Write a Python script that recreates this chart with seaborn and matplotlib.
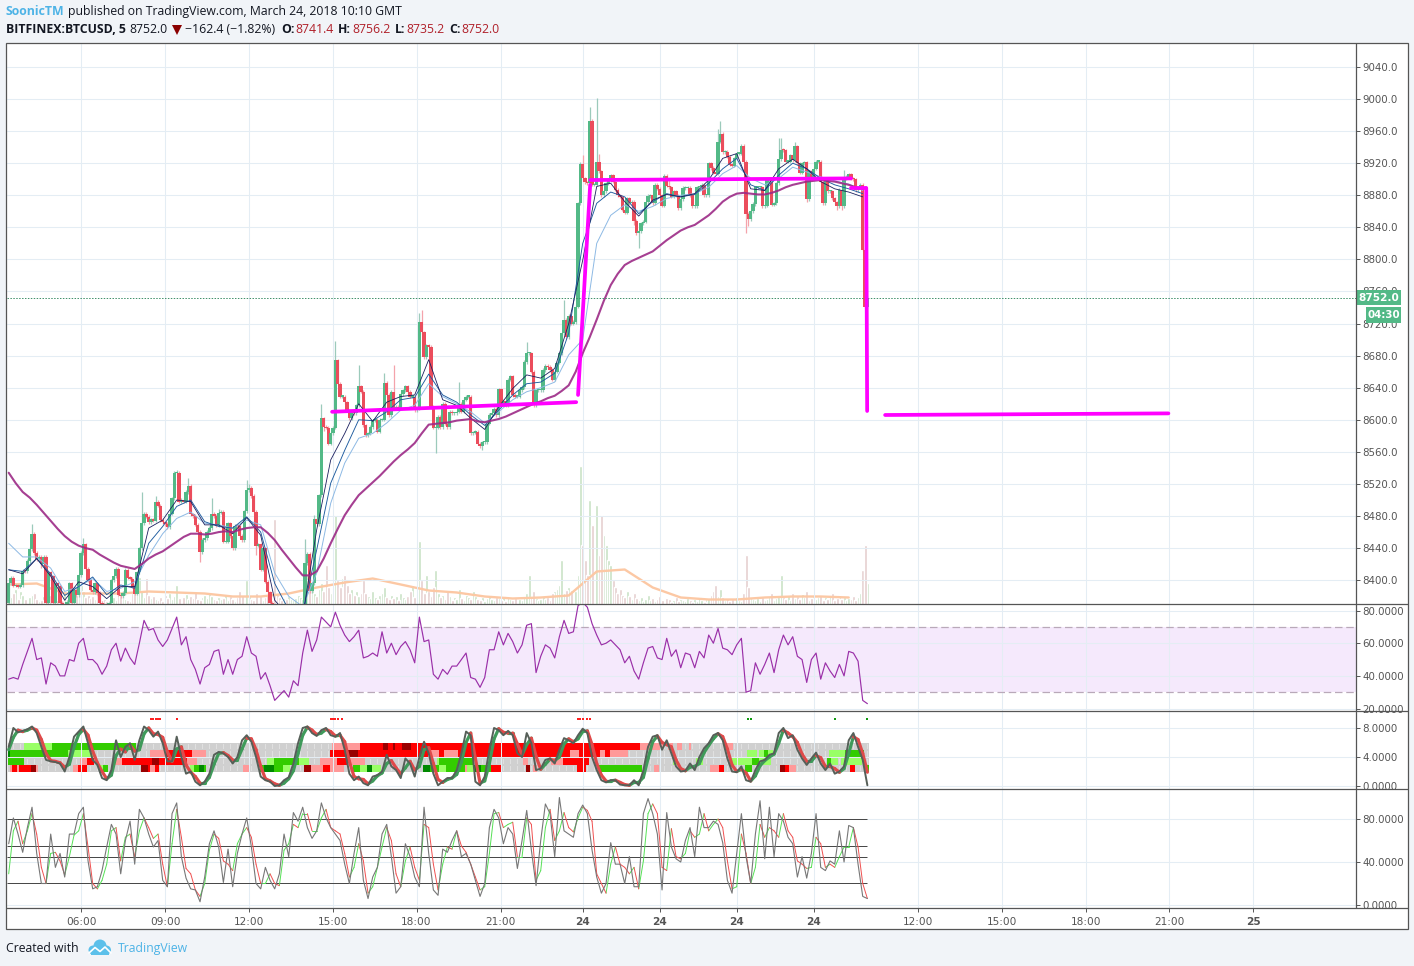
import matplotlib
matplotlib.use('Agg')
import matplotlib.pyplot as plt
from matplotlib.colors import ListedColormap
from matplotlib.patches import Rectangle, Polygon, Circle
import seaborn as sns
import pandas as pd
import numpy as np

# ---- data, one entry per 5 minute bar unless noted ----
first_open = 8371
closes = [
    8396, 8403, 8393, 8393, 8392, 8394, 8412, 8411, 8424, 8439,
    8458, 8434, 8426, 8429, 8420, 8429, 8372, 8410, 8405, 8372,
    8396, 8393, 8372, 8368, 8370, 8373, 8396, 8372, 8388, 8381,
    8406, 8434, 8445, 8414, 8400, 8388, 8385, 8396, 8384, 8372,
    8369, 8368, 8366, 8371, 8400, 8405, 8414, 8382, 8380, 8384,
    8413, 8403, 8402, 8392, 8383, 8410, 8440, 8471, 8483, 8479,
    8472, 8476, 8474, 8498, 8493, 8475, 8472, 8470, 8466, 8483,
    8502, 8534, 8534, 8498, 8500, 8498, 8510, 8518, 8482, 8480,
    8469, 8460, 8435, 8450, 8452, 8460, 8465, 8483, 8480, 8468,
    8484, 8485, 8448, 8448, 8471, 8455, 8440, 8468, 8467, 8455,
    8450, 8486, 8512, 8515, 8505, 8485, 8443, 8445, 8413, 8440,
    8398, 8385, 8372, 8368, 8360, 8352, 8345, 8340, 8340, 8338,
    8340, 8345, 8350, 8352, 8355, 8358, 8360, 8421, 8433, 8386,
    8396, 8476, 8470, 8506, 8602, 8591, 8590, 8570, 8583, 8590,
    8674, 8645, 8629, 8629, 8622, 8612, 8602, 8610, 8608, 8618,
    8642, 8635, 8593, 8581, 8583, 8591, 8599, 8600, 8585, 8600,
    8600, 8646, 8631, 8606, 8635, 8614, 8616, 8615, 8632, 8637,
    8642, 8635, 8629, 8629, 8612, 8614, 8722, 8709, 8678, 8693,
    8691, 8616, 8590, 8590, 8604, 8591, 8620, 8595, 8591, 8610,
    8608, 8608, 8610, 8620, 8610, 8625, 8629, 8629, 8583, 8584,
    8585, 8570, 8567, 8572, 8572, 8595, 8606, 8608, 8614, 8606,
    8638, 8620, 8624, 8618, 8650, 8654, 8631, 8629, 8629, 8637,
    8641, 8672, 8683, 8683, 8660, 8618, 8637, 8637, 8637, 8662,
    8667, 8666, 8662, 8650, 8660, 8671, 8683, 8708, 8725, 8703,
    8730, 8720, 8722, 8741, 8870, 8919, 8901, 8896, 8895, 8973,
    8893, 8893, 8922, 8910, 8880, 8885, 8895, 8899, 8905, 8897,
    8887, 8880, 8878, 8862, 8858, 8876, 8870, 8872, 8848, 8833,
    8835, 8845, 8847, 8871, 8879, 8880, 8870, 8893, 8888, 8880,
    8867, 8904, 8892, 8890, 8878, 8885, 8880, 8864, 8875, 8889,
    8889, 8889, 8880, 8866, 8866, 8890, 8890, 8893, 8880, 8880,
    8920, 8914, 8908, 8907, 8947, 8957, 8934, 8934, 8928, 8918,
    8917, 8926, 8932, 8932, 8942, 8922, 8857, 8850, 8860, 8869,
    8890, 8890, 8890, 8866, 8867, 8899, 8899, 8868, 8870, 8895,
    8925, 8937, 8936, 8922, 8922, 8930, 8924, 8941, 8920, 8908,
    8920, 8921, 8875, 8910, 8903, 8913, 8922, 8922, 8897, 8870,
    8901, 8885, 8885, 8876, 8871, 8866, 8887, 8866, 8901, 8903,
    8906, 8901, 8900, 8886, 8890, 8893, 8812, 8741, 8752,
]
# long wicks only, everything else gets the small default
wick_up_bars = [10, 32, 57, 63, 72, 77, 87, 90, 102, 103, 127, 131, 134, 140, 150, 161, 165,
                176, 177, 193, 222, 238, 246, 249, 252, 253, 283, 304, 305, 330, 331, 337, 358]
wick_up_sizes = [12, 8, 39, 7, 3, 9, 19, 5, 13, 5, 30, 5, 18, 24, 26, 12, 33,
                 11, 15, 27, 14, 24, 11, 17, 79, 10, 8, 16, 15, 26, 14, 5, 10]
wick_dn_bars = [14, 82, 106, 135, 183, 203, 268, 270, 316, 317, 342, 355, 357]
wick_dn_sizes = [5, 12, 12, 5, 32, 5, 5, 19, 24, 8, 3, 5, 5]

volumes = [
    22, 8, 12, 16, 6, 14, 10, 6, 5, 8, 10, 12, 6, 4, 5, 9, 14, 8, 10, 12,
    6, 5, 9, 4, 12, 6, 5, 4, 8, 10, 16, 20, 14, 8, 10, 7, 9, 6, 14, 8,
    5, 6, 4, 5, 12, 8, 5, 14, 10, 7, 6, 5, 4, 12, 20, 16, 28, 14, 8, 27,
    10, 7, 9, 6, 5, 8, 4, 10, 7, 12, 6, 9, 20, 7, 5, 8, 11, 6, 9, 7,
    13, 6, 5, 8, 10, 7, 12, 9, 6, 5, 8, 6, 7, 10, 5, 9, 6, 4, 8, 14,
    10, 7, 25, 9, 6, 5, 12, 7, 9, 5, 8, 10, 6, 4, 86, 12, 8, 5, 7, 6,
    9, 6, 5, 7, 10, 8, 6, 25, 30, 14, 20, 12, 9, 16, 22, 14, 40, 18, 12, 16,
    90, 25, 18, 27, 30, 20, 12, 16, 10, 14, 9, 12, 25, 12, 9, 7, 14, 8, 6, 10,
    12, 18, 8, 6, 10, 7, 9, 5, 12, 8, 6, 9, 14, 20, 8, 10, 64, 25, 12, 30,
    14, 9, 18, 35, 12, 8, 10, 6, 14, 9, 5, 8, 6, 16, 7, 5, 10, 8, 6, 14,
    9, 6, 5, 8, 4, 7, 10, 6, 5, 8, 7, 5, 9, 4, 8, 6, 5, 7, 4, 6,
    5, 9, 12, 30, 8, 14, 7, 5, 6, 9, 6, 8, 5, 12, 14, 16, 20, 45, 12, 15,
    18, 15, 10, 14, 30, 139, 60, 45, 30, 105, 80, 40, 100, 50, 90, 70, 60, 45, 40, 25,
    18, 12, 16, 10, 8, 14, 9, 6, 12, 7, 5, 8, 4, 6, 10, 5, 7, 4, 6, 9,
    5, 4, 7, 6, 3, 5, 8, 4, 6, 5, 4, 7, 5, 3, 6, 4, 8, 5, 3, 6,
    7, 10, 14, 20, 9, 16, 8, 5, 7, 4, 6, 5, 8, 5, 4, 12, 50, 18, 8, 6,
    5, 7, 4, 8, 5, 6, 9, 12, 5, 7, 9, 30, 8, 6, 10, 5, 12, 7, 9, 6,
    11, 8, 14, 5, 7, 9, 6, 8, 10, 5, 8, 6, 9, 12, 5, 7, 10, 6, 8, 5,
    7, 6, 9, 5, 8, 12, 35, 60, 22,
]
# volume average, one value every 12 bars
volume_ma = [20, 21, 11, 11, 11, 13, 12, 11, 8, 8, 11, 17, 22, 26, 20, 14, 12, 8, 6, 7, 9,
             33, 35, 17, 7, 5, 5, 7, 8, 8, 7]

# slow moving average, one value every 3 bars
ma_purple = [8534, 8521, 8510, 8503, 8494, 8484, 8474, 8464, 8455, 8448,
             8443, 8440, 8438, 8432, 8427, 8422, 8418, 8416, 8414, 8420,
             8427, 8432, 8436, 8442, 8448, 8454, 8458, 8458, 8457, 8458,
             8460, 8461, 8460, 8463, 8465, 8466, 8466, 8459, 8450, 8438,
             8427, 8416, 8406, 8406, 8411, 8427, 8446, 8464, 8481, 8494,
             8506, 8514, 8522, 8530, 8539, 8548, 8556, 8563, 8571, 8583,
             8594, 8595, 8596, 8597, 8599, 8600, 8601, 8598, 8597, 8599,
             8601, 8604, 8608, 8612, 8616, 8620, 8623, 8627, 8630, 8636,
             8643, 8660, 8683, 8703, 8725, 8748, 8768, 8782, 8793, 8798,
             8802, 8806, 8810, 8817, 8824, 8830, 8836, 8840, 8843, 8849,
             8855, 8863, 8872, 8878, 8882, 8883, 8882, 8881, 8881, 8883,
             8886, 8890, 8893, 8895, 8897, 8898, 8899, 8898, 8897, 8895,
             8893, 8890, 8888]
# fast moving averages, one value every 6 bars
ma_light = [8446, 8429, 8429, 8415, 8386, 8392, 8402, 8386, 8390, 8398, 8431, 8458, 8477, 8485, 8471,
            8469, 8465, 8475, 8469, 8409, 8380, 8367, 8409, 8496, 8546, 8577, 8583, 8596, 8612, 8618,
            8645, 8629, 8620, 8610, 8596, 8610, 8625, 8635, 8640, 8647, 8681, 8700, 8820, 8855, 8868,
            8860, 8866, 8876, 8880, 8882, 8890, 8907, 8917, 8901, 8893, 8901, 8915, 8909, 8903, 8898,
            8894, 8886]
ma_medium = [8413, 8411, 8427, 8408, 8381, 8392, 8404, 8382, 8394, 8390, 8446, 8467, 8492, 8500, 8473,
             8467, 8465, 8479, 8460, 8396, 8363, 8359, 8438, 8521, 8562, 8600, 8599, 8610, 8625, 8628,
             8657, 8631, 8622, 8606, 8593, 8612, 8631, 8645, 8647, 8658, 8708, 8820, 8870, 8884, 8878,
             8857, 8872, 8882, 8878, 8881, 8895, 8913, 8926, 8893, 8886, 8905, 8920, 8913, 8901, 8893,
             8888, 8882]
ma_dark = [8413, 8408, 8427, 8405, 8375, 8398, 8392, 8377, 8392, 8392, 8465, 8475, 8500, 8498, 8469,
           8469, 8458, 8478, 8456, 8375, 8355, 8355, 8463, 8550, 8583, 8620, 8598, 8622, 8629, 8631,
           8675, 8625, 8618, 8602, 8588, 8616, 8639, 8656, 8652, 8664, 8720, 8799, 8891, 8895, 8872,
           8854, 8874, 8881, 8878, 8882, 8899, 8926, 8932, 8888, 8886, 8913, 8925, 8913, 8897, 8888,
           8884, 8878]

# oscillators, one value every 2 bars
rsi = [
    38, 39, 38, 47, 55, 63, 50, 51, 35, 48, 46, 40, 40, 50, 49, 60, 63, 50, 50, 47,
    41, 46, 56, 60, 49, 57, 51, 47, 60, 74, 68, 69, 62, 58, 62, 69, 76, 59, 64, 50,
    44, 35, 45, 47, 55, 56, 41, 50, 41, 50, 52, 64, 54, 52, 38, 42, 34, 25, 28, 31,
    27, 37, 34, 54, 68, 55, 62, 76, 73, 70, 79, 71, 65, 61, 64, 68, 51, 52, 54, 52,
    67, 54, 60, 53, 58, 61, 56, 48, 76, 61, 62, 41, 38,
    44, 41, 46, 46, 50, 54, 39, 38, 33, 39, 56, 56, 67, 59, 66, 61, 54, 59, 71, 72,
    42, 52, 59, 57, 51, 64, 74, 66, 67, 83, 85, 82, 72, 65, 59, 60, 62, 59, 56, 48,
    52, 43, 38, 48, 57, 58, 51, 50, 63, 52, 56, 45, 54, 53, 45, 55, 51, 65, 60, 69,
    57, 56, 53, 59, 63, 30, 31, 48, 41, 47, 54, 42, 56, 65, 59, 64, 52, 50, 36, 50,
    54, 38, 48, 43, 39, 47, 40, 55, 54, 49, 25, 23,
]
smi_k = [
    5.4, 8.0, 7.4, 7.6, 7.8, 8.2, 7.3, 5.4, 3.6, 3.4, 3.3, 3.1, 2.0, 4.0, 6.8, 7.5, 8.2, 5.9, 3.6, 2.9,
    1.1, 0.8, 2.2, 6.3, 4.0, 5.4, 5.9, 3.6, 6.3, 8.2, 7.7, 6.8, 7.5, 5.9, 3.4, 3.4, 6.8, 4.0, 1.7, 2.0,
    0.6, 0.1, 0.6, 1.7, 4.3, 4.7, 4.5, 4.0, 3.1, 4.0, 6.3, 7.0, 6.1, 4.0, 1.3, 0.8, 0.6, 0.0, 0.1, 0.8,
    1.2, 3.1, 5.9, 8.0, 8.2, 7.3, 6.9, 7.7, 8.0, 7.0, 6.8, 7.3, 5.0, 1.7, 0.8, 1.3, 0.4, 0.1, 1.3, 1.5,
    2.0, 4.3, 2.7, 2.2, 1.1, 3.8, 3.1, 1.3, 4.0, 6.1, 4.5, 1.7, 0.1,
    0.6, 1.1, 1.1, 2.2, 4.5, 7.5, 7.0, 0.6, 0.1, 1.3, 5.0, 8.0, 7.7, 7.0, 7.6, 7.0, 4.5, 4.0, 7.3, 5.9,
    2.2, 2.4, 3.6, 3.8, 3.1, 5.0, 6.6, 6.3, 5.9, 7.0, 7.9, 7.3, 4.0, 2.2, 0.8, 0.5, 0.8, 0.8, 0.2, 0.1,
    0.1, 0.8, 0.1, 2.2, 5.4, 6.8, 7.0, 5.0, 6.3, 4.5, 2.7, 2.0, 2.1, 3.1, 2.2, 4.0, 5.2, 5.9, 7.0, 7.3,
    6.3, 3.8, 2.0, 1.9, 2.7, 0.8, 0.6, 2.2, 3.4, 3.6, 4.3, 4.5, 7.3, 8.0, 6.6, 7.0, 5.0, 3.8, 2.9, 3.8,
    4.6, 3.1, 2.2, 3.1, 1.7, 2.0, 2.7, 6.3, 7.3, 5.4, 3.6, 0.1,
]
smi_d = [
    5.0, 6.7, 7.7, 7.5, 7.7, 8.0, 7.7, 6.4, 4.5, 3.5, 3.4, 3.2, 2.6, 3.0, 5.4, 7.1, 7.8, 7.0, 4.8, 3.2,
    2.0, 1.0, 1.5, 4.2, 5.1, 4.7, 5.6, 4.8, 5.0, 7.2, 8.0, 7.2, 7.1, 6.7, 4.7, 3.4, 5.1, 5.4, 2.9, 1.9,
    1.3, 0.4, 0.4, 1.2, 3.0, 4.5, 4.6, 4.2, 3.6, 3.6, 5.1, 6.6, 6.5, 5.0, 2.7, 1.0, 0.7, 0.3, 0.1, 0.4,
    1.0, 2.1, 4.5, 7.0, 8.1, 7.7, 7.1, 7.3, 7.8, 7.5, 6.9, 7.0, 6.1, 3.4, 1.3, 1.0, 0.9, 0.3, 0.7, 1.4,
    1.8, 3.1, 3.5, 2.5, 1.7, 2.5, 3.4, 2.2, 2.7, 5.0, 5.3, 3.1, 0.9,
    0.5, 0.9, 1.1, 1.6, 3.3, 6.0, 7.3, 3.8, 0.4, 0.7, 3.1, 6.5, 7.9, 7.4, 7.3, 7.3, 5.8, 4.3, 5.7, 6.6,
    4.1, 2.3, 3.0, 3.7, 3.5, 4.0, 5.8, 6.5, 6.1, 6.5, 7.5, 7.6, 5.7, 3.1, 1.5, 0.7, 0.7, 0.8, 0.5, 0.2,
    0.1, 0.5, 0.5, 1.2, 3.8, 6.1, 6.9, 6.0, 5.7, 5.4, 3.6, 2.4, 2.1, 2.6, 2.7, 3.1, 4.6, 5.6, 6.5, 7.2,
    6.8, 5.1, 2.9, 2.0, 2.3, 1.8, 0.7, 1.4, 2.8, 3.5, 4.0, 4.4, 5.9, 7.7, 7.3, 6.8, 6.0, 4.4, 3.4, 3.4,
    4.2, 3.9, 2.7, 2.7, 2.4, 1.9, 2.4, 4.5, 6.8, 6.4, 4.5, 1.9,
]
stoch_k = [
    57, 81, 66, 49, 72, 91, 48, 20, 20, 66, 35, 48, 26, 66, 66, 85, 91, 41, 15, 17,
    32, 54, 75, 66, 29, 60, 78, 38, 89, 81, 66, 54, 60, 23, 17, 85, 95, 45, 25, 15,
    14, 3, 26, 57, 69, 54, 21, 52, 17, 48, 66, 81, 54, 20, 15, 35, 23, 15, 29, 66,
    45, 86, 78, 91, 72, 62, 69, 95, 81, 72, 66, 60, 38, 20, 48, 72, 23, 6, 26, 35,
    66, 75, 45, 11, 17, 57, 45, 26, 17, 91, 48, 14, 9,
    52, 49, 60, 69, 45, 48, 38, 23, 8, 20, 72, 89, 81, 57, 72, 66, 34, 60, 88, 51,
    18, 60, 94, 85, 45, 100, 69, 66, 63, 85, 93, 85, 51, 26, 11, 20, 58, 38, 38, 20,
    45, 17, 17, 85, 99, 85, 66, 14, 86, 54, 43, 40, 60, 72, 45, 91, 72, 72, 78, 75,
    58, 23, 11, 48, 85, 45, 20, 66, 97, 43, 91, 45, 85, 78, 63, 57, 26, 45, 25, 48,
    85, 35, 32, 41, 38, 69, 40, 74, 72, 38, 8, 6,
]
stoch_d = [
    29, 69, 78, 57, 69, 85, 66, 35, 20, 48, 49, 41, 28, 45, 65, 69, 85, 54, 20, 15,
    23, 38, 69, 72, 41, 63, 66, 45, 69, 81, 72, 62, 66, 38, 17, 57, 89, 63, 34, 29,
    14, 8, 20, 51, 66, 62, 41, 38, 32, 57, 66, 72, 63, 38, 20, 20, 29, 20, 18, 51,
    57, 75, 72, 85, 85, 69, 69, 81, 89, 72, 69, 66, 48, 26, 35, 57, 41, 11, 17, 35,
    54, 72, 60, 29, 17, 41, 54, 35, 23, 75, 72, 38, 14,
    38, 54, 52, 69, 55, 49, 38, 26, 14, 17, 48, 85, 86, 72, 75, 77, 45, 45, 81, 75,
    23, 32, 72, 89, 60, 69, 86, 72, 68, 81, 91, 88, 78, 29, 20, 11, 38, 54, 38, 35,
    29, 35, 15, 41, 85, 94, 85, 35, 32, 71, 45, 43, 48, 69, 63, 66, 85, 69, 75, 80,
    72, 41, 15, 17, 66, 48, 20, 35, 75, 63, 72, 69, 63, 85, 69, 63, 41, 38, 34, 35,
    63, 57, 35, 38, 35, 45, 54, 54, 72, 54, 20, 6,
]

# heat rows as (level, bars) runs: 0 grey, 2/3/4 light/full/dark green, -2/-3/-4 same in red
heat_row1 = [(0, 7), (2, 12), (3, 36), (0, 84), (-2, 12), (-3, 10), (-4, 2), (-3, 2), (-4, 1), (-3, 3),
             (-4, 4), (-3, 98), (-2, 10), (0, 2), (-2, 2), (0, 2), (-2, 2), (0, 3), (-2, 1), (0, 14),
             (-2, 4), (0, 63)]
heat_row2 = [(4, 1), (3, 25), (2, 11), (0, 24), (-2, 7), (-3, 11), (-2, 6), (0, 53), (-3, 7), (-4, 5),
             (-3, 30), (-2, 5), (-3, 2), (-2, 6), (-3, 48), (-2, 4), (-3, 9), (-2, 2), (-3, 2), (-2, 8),
             (0, 51), (2, 4), (0, 1), (2, 2), (3, 2), (2, 2), (0, 24), (2, 7), (3, 8)]
heat_row3 = [(3, 7), (0, 24), (-2, 3), (-3, 3), (0, 9), (-2, 3), (-3, 13), (-4, 3), (-3, 12), (-2, 4),
             (0, 30), (2, 3), (3, 11), (2, 4), (0, 5), (-2, 7), (-3, 5), (-2, 7), (0, 31), (2, 1),
             (3, 15), (0, 21), (-2, 2), (0, 10), (-2, 5), (-3, 11), (0, 36), (2, 2), (0, 8), (2, 3),
             (0, 12), (2, 9), (3, 3), (2, 5), (0, 24), (3, 2), (2, 3), (0, 1), (2, 9)]
heat_row4 = [(0, 1), (-2, 1), (-3, 2), (-2, 1), (-3, 5), (-4, 2), (-2, 1), (0, 15), (-2, 2), (-3, 4),
             (0, 5), (2, 2), (3, 2), (0, 14), (-4, 3), (-3, 1), (-2, 2), (-3, 2), (0, 13), (2, 2),
             (3, 2), (4, 2), (3, 1), (0, 16), (-2, 3), (0, 4), (3, 2), (4, 4), (3, 4), (2, 3),
             (0, 6), (-4, 3), (-2, 5), (-3, 3), (-2, 6), (0, 4), (3, 3), (2, 3), (4, 2), (2, 4),
             (0, 18), (4, 3), (3, 4), (2, 3), (3, 8), (-2, 1), (2, 3), (4, 3), (3, 4), (-3, 5),
             (0, 10), (-4, 2), (0, 1), (-2, 2), (0, 17), (-3, 4), (0, 5), (3, 19), (0, 5), (-2, 2),
             (0, 22), (-2, 4), (-3, 2), (0, 9), (3, 3), (0, 12), (-4, 2), (-3, 2), (-2, 3), (0, 23),
             (-3, 2), (0, 5), (3, 2)]
heat_colors = {-4: '#990000', -3: '#ff0000', -2: '#ff9999', 0: '#e0e0e0',
               2: '#99ff66', 3: '#33cc00', 4: '#008800'}

red_dot_bars = [61, 62, 63, 64, 65, 72, 138, 139, 140, 141, 143, 244, 245, 246, 248, 249]
green_dot_bars = [317, 318, 354, 368]

# drawn trend lines: bar, price
trend_lines = [
    ([138.6, 243.2], [8610, 8622]),
    ([244.0, 249.2], [8631, 8893]),
    ([249.2, 361.0], [8899, 8901]),
    ([361.0, 367.5], [8889, 8889]),
    ([367.5, 367.9], [8889, 8611]),
    ([375.6, 497.0], [8606, 8608]),
]

time_ticks = [31, 67, 103, 138.8, 174.8, 210.8, 246, 279, 312, 345, 389.7, 425.7, 461.7, 497.3, 533.3]
time_labels = ['06:00', '09:00', '12:00', '15:00', '18:00', '21:00', '24', '24', '24', '24',
               '12:00', '15:00', '18:00', '21:00', '25']
price_ticks = list(range(8400, 9041, 40))
rsi_ticks = [20, 40, 60, 80]
smi_ticks = [0, 4, 8]
stoch_ticks = [0, 40, 80]
stoch_levels = [80, 55, 45, 20]

assert len(closes) == 369 and len(volumes) == 369
assert len(rsi) == len(smi_k) == len(smi_d) == len(stoch_k) == len(stoch_d) == 185
assert len(ma_purple) == 123
assert len(ma_light) == len(ma_medium) == len(ma_dark) == 62

W, H = 1414, 966
BG = '#f1f4f8'
GRID = '#e4edf4'
EDGE = '#555555'
UP = '#53b987'
DOWN = '#eb4d5c'

sns.set_theme(style='whitegrid', rc={'grid.color': GRID, 'grid.linewidth': 0.75, 'axes.axisbelow': True})
plt.rcParams['font.family'] = ['DejaVu Sans']


def rect(x0, y0, x1, y1):
    return [x0 / W, 1 - y1 / H, (x1 - x0) / W, (y1 - y0) / H]


def expand(runs):
    row = []
    for level, count in runs:
        row += [level] * count
    row = (row + [0] * 369)[:369]
    return row


def segments(bars, values):
    # one two-point line per step, so lineplot can colour rising and falling apart
    rows = []
    for n in range(len(bars) - 1):
        d = 'up' if values[n + 1] >= values[n] else 'down'
        rows.append((n, d, bars[n], values[n]))
        rows.append((n, d, bars[n + 1], values[n + 1]))
    return pd.DataFrame(rows, columns=['seg', 'dir', 'bar', 'value'])


bars = np.arange(369)
osc_bars = np.arange(185) * 2
opens = np.array([first_open] + closes[:-1])
close_arr = np.array(closes)
up = close_arr >= opens
wick_up = np.full(369, 2)
wick_up[wick_up_bars] = wick_up_sizes
wick_dn = np.full(369, 2)
wick_dn[wick_dn_bars] = wick_dn_sizes
highs = np.maximum(opens, close_arr) + wick_up
lows = np.minimum(opens, close_arr) - wick_dn

fig = plt.figure(figsize=(W / 100, H / 100), dpi=100, facecolor=BG)

# full-figure layer in pixels for the white pane
back = fig.add_axes([0, 0, 1, 1], zorder=-1)
back.set_xlim(0, W)
back.set_ylim(H, 0)
back.axis('off')
back.add_patch(Rectangle((6, 43), 1402, 886, facecolor='white', edgecolor='none'))

XLIM = (-0.729, 577.4)

vol_ax = fig.add_axes(rect(7, 44, 1356, 604.5), zorder=1)
ax = fig.add_axes(rect(7, 44, 1356, 604.5), zorder=2)
rsi_ax = fig.add_axes(rect(7, 605, 1356, 711.5), zorder=2)
heat_ax = fig.add_axes(rect(7.5, 743.3, 868.5, 771.7), zorder=1)
smi_ax = fig.add_axes(rect(7, 712, 1356, 789.5), zorder=2)
sto_ax = fig.add_axes(rect(7, 790, 1356, 908), zorder=2)

# volume
vol_df = pd.DataFrame({'bar': bars, 'volume': volumes, 'dir': np.where(up, 'up', 'down')})
sns.barplot(data=vol_df, x='bar', y='volume', hue='dir', palette={'up': '#c9e2c5', 'down': '#e6cfcf'},
            native_scale=True, dodge=False, width=1.3, saturation=1, errorbar=None, legend=False, ax=vol_ax)
vol_ax.set_xlim(*XLIM)
vol_ax.set_ylim(0, 560.5)
vol_ax.axis('off')

# candles: bodies are wider than the bar step, the later one lies over the earlier one
ax.vlines(bars, lows, highs, colors=np.where(up, '#9ccabb', '#f4a3ab'), lw=0.9, zorder=3)
ax.bar(bars, np.maximum(np.abs(close_arr - opens), 1.5), bottom=np.minimum(opens, close_arr), width=1.5,
       color=np.where(up, UP, DOWN), linewidth=0, zorder=4)

# moving averages
ma_bars = np.arange(62) * 6
sns.lineplot(x=np.arange(len(volume_ma)) * 12, y=volume_ma, color='#fcc8a4', lw=1.7, ax=vol_ax)
vol_ax.set_xlim(*XLIM)
vol_ax.set_ylim(0, 560.5)
for values, color, lw in [(ma_light, '#8db9e4', 0.7), (ma_medium, '#1c5a9e', 0.65), (ma_dark, '#1b1f5e', 0.6)]:
    sns.lineplot(x=ma_bars, y=values, color=color, lw=lw, ax=ax, zorder=5)
sns.lineplot(x=np.arange(123) * 3, y=ma_purple, color='#9c2a86', lw=1.5, alpha=0.9, ax=ax, zorder=6)

# drawn trend lines and last price
for xs, ys in trend_lines:
    sns.lineplot(x=xs, y=ys, color='#ff00ff', lw=2.7, ax=ax, zorder=7, estimator=None, sort=False)
ax.axhline(closes[-1], color='#3f8f68', lw=0.7, ls=(0, (1.5, 1.5)), zorder=6)
ax.set_ylim(8369.7, 9068.6)
ax.set_yticks(price_ticks)
ax.set_yticklabels(['%.1f' % p for p in price_ticks])

# RSI
rsi_ax.axhspan(30, 70, color='#f5e9fc', lw=0, zorder=0)
rsi_ax.axhline(70, color='#b9a9b9', lw=0.9, ls=(0, (6, 3)), zorder=2)
rsi_ax.axhline(30, color='#b9a9b9', lw=0.9, ls=(0, (6, 3)), zorder=2)
sns.lineplot(x=osc_bars, y=rsi, color='#9a2fa8', lw=0.85, ax=rsi_ax, zorder=3)
rsi_ax.set_ylim(18.2, 83.4)
rsi_ax.set_yticks(rsi_ticks)
rsi_ax.set_yticklabels(['%.4f' % v for v in rsi_ticks])

# heat rows under the second oscillator
heat = np.array([expand(heat_row1), expand(heat_row2), expand(heat_row3), expand(heat_row4)])
levels = sorted(heat_colors)
level_index = np.vectorize(levels.index)(heat)
heat_cmap = ListedColormap([heat_colors[k] for k in levels])
sns.heatmap(level_index, mask=heat != 0, cmap=heat_cmap, vmin=-0.5, vmax=len(levels) - 0.5, cbar=False,
            xticklabels=False, yticklabels=False, linewidths=0.15, linecolor='#d0d0d0', ax=heat_ax)
sns.heatmap(level_index, mask=heat == 0, cmap=heat_cmap, vmin=-0.5, vmax=len(levels) - 0.5, cbar=False,
            xticklabels=False, yticklabels=False, ax=heat_ax)
heat_ax.set_xlabel('')
heat_ax.set_ylabel('')

# second oscillator
seg_colors = {'up': '#3f9a5a', 'down': '#df4a4a'}
sns.lineplot(data=segments(osc_bars, smi_d), x='bar', y='value', hue='dir', units='seg', estimator=None,
             palette=seg_colors, lw=2.3, legend=False, ax=smi_ax, zorder=3)
sns.lineplot(x=osc_bars, y=smi_k, color='#565f58', lw=1.4, ax=smi_ax, zorder=4)
sns.scatterplot(x=red_dot_bars, y=[9.24] * len(red_dot_bars), color='#ff2020', marker='s', s=2.5, linewidth=0, ax=smi_ax)
sns.scatterplot(x=green_dot_bars, y=[9.24] * len(green_dot_bars), color='#109a10', marker='s', s=2.5, linewidth=0, ax=smi_ax)
smi_ax.set_ylim(-0.48, 10.2)
smi_ax.set_yticks(smi_ticks)
smi_ax.set_yticklabels(['%.4f' % v for v in smi_ticks])

# stochastic
sto_ax.hlines(stoch_levels, bars[0] - 0.7, bars[-1], colors='#444444', lw=0.7, zorder=2)
sns.lineplot(data=segments(osc_bars, stoch_d), x='bar', y='value', hue='dir', units='seg', estimator=None,
             palette={'up': '#55e055', 'down': '#f05050'}, lw=0.7, legend=False, ax=sto_ax, zorder=3)
sns.lineplot(x=osc_bars, y=stoch_k, color='#777777', lw=0.8, ax=sto_ax, zorder=4)
sto_ax.set_ylim(-2.8, 107)
sto_ax.set_yticks(stoch_ticks)
sto_ax.set_yticklabels(['%.4f' % v for v in stoch_ticks])

for a in [ax, rsi_ax, smi_ax, sto_ax]:
    a.set_facecolor('none')
    a.set_xlim(*XLIM)
    a.set_xticks(time_ticks)
    a.set_xticklabels([])
    a.set_xlabel('')
    a.set_ylabel('')
    a.grid(True)
    a.tick_params(axis='x', length=0)
    a.tick_params(axis='y', left=False, labelleft=False, right=True, labelright=True, length=3, width=0.7,
                  color=EDGE, labelcolor='#555555', labelsize=7.4, pad=1.5)
    for side in a.spines.values():
        side.set_visible(False)

sto_ax.set_xticklabels(time_labels)
sto_ax.tick_params(axis='x', bottom=True, length=3, width=0.7, color=EDGE, labelcolor='#555555', labelsize=7.6, pad=3.5)
for t in sto_ax.get_xticklabels():
    if t.get_text() in ('24', '25'):
        t.set_fontweight('bold')

# top layer in pixels: frame, price tags, header, footer
top = fig.add_axes([0, 0, 1, 1], zorder=10)
top.set_xlim(0, W)
top.set_ylim(H, 0)
top.axis('off')
top.add_patch(Rectangle((6, 43), 1402, 886, facecolor='none', edgecolor=EDGE, lw=0.9))
top.hlines([604, 711, 789, 908], 6, 1408, colors=EDGE, lw=0.9)
top.vlines(1356, 43, 908, colors=EDGE, lw=0.9)
top.add_patch(Rectangle((1357, 290), 44, 15, facecolor=UP, edgecolor='none'))
top.add_patch(Rectangle((1366, 307), 35, 16, facecolor=UP, edgecolor='none'))
top.text(1379, 298, '8752.0', color='white', fontsize=7.6, fontweight='bold', ha='center', va='center')
top.text(1383.5, 315.5, '04:30', color='white', fontsize=7.4, fontweight='bold', ha='center', va='center')

HEAD = ['Open Sans', 'DejaVu Sans']
BLUE = '#4db3e6'
DARK = '#131722'
RED = '#b0202a'


def head(x, y, s, color=DARK, weight='normal'):
    top.text(x, y, s, color=color, fontsize=8.85, fontweight=weight, family=HEAD, ha='left', va='center')


head(6, 11.5, 'SoonicTM', BLUE, 'bold')
head(68, 11.5, 'published on TradingView.com, March 24, 2018 10:10 GMT')
head(6, 29.5, 'BITFINEX:BTCUSD, 5', DARK, 'bold')
head(129, 29.5, '8752.0')
top.add_patch(Polygon([(172, 25), (182, 25), (177, 35)], closed=True, facecolor='#8b0000', edgecolor='none'))
head(185, 29.5, '\u2212162.4 (\u22121.82%)')
head(281, 29.5, 'O:', DARK, 'bold')
head(295, 29.5, '8741.4', RED)
head(338, 29.5, 'H:', DARK, 'bold')
head(352, 29.5, '8756.2', RED)
head(395, 29.5, 'L:', DARK, 'bold')
head(406, 29.5, '8735.2', RED)
head(449, 29.5, 'C:', DARK, 'bold')
head(461, 29.5, '8752.0', RED)

head(6, 948.5, 'Created with')
head(118, 948.5, 'TradingView', BLUE)
for cx, cy, r in [(93, 950, 4.5), (100, 946, 6.5), (106.5, 950, 4.5)]:
    top.add_patch(Circle((cx, cy), r, facecolor='#5cc0ea', edgecolor='none'))
top.add_patch(Rectangle((91, 950), 18, 4.5, facecolor='#5cc0ea', edgecolor='none'))
top.plot([89, 95, 100, 105, 111], [953, 947.5, 951.5, 947, 953], color='white', lw=1.2)

fig.savefig('out.png', dpi=100, facecolor=fig.get_facecolor())
